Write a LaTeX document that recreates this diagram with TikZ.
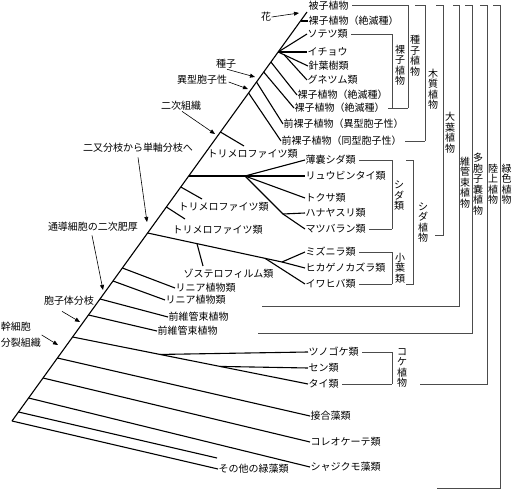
\documentclass[tikz,border=0pt]{standalone}
\usepackage{fontspec}
\newfontfamily\jp{Noto Sans CJK JP}
\usetikzlibrary{arrows.meta,calc}
\begin{document}
\begin{tikzpicture}[x=1pt,y=-1pt,
  lbl/.style={font=\jp\fontsize{10}{10.5}\selectfont, inner sep=0.5pt, anchor=west},
  vlbl/.style={font=\jp\fontsize{10}{10.5}\selectfont, inner sep=0pt, align=center},
  note/.style={font=\jp\fontsize{10}{10.5}\selectfont, inner sep=0.5pt},
  twig/.style={line width=1.1pt, black},
  bracketline/.style={line width=0.75pt, black!70},
  arr/.style={line width=0.6pt, black, -{Triangle[length=5pt,width=4pt]}}
]
\useasboundingbox (0,0) rectangle (512,489);

% ---------- leaf labels ----------
\node[lbl] (n1) at (308,5.5) {被子植物};
\node[lbl] (n2) at (308,21) {裸子植物（絶滅種）};
\node[lbl] (n3) at (307,34) {ソテツ類};
\node[lbl] (n4) at (307,52) {イチョウ};
\node[lbl] (n5) at (308,66) {針葉樹類};
\node[lbl] (n6) at (307,80) {グネツム類};
\node[lbl] (n7) at (297,95) {裸子植物（絶滅種）};
\node[lbl] (n8) at (294,108) {裸子植物（絶滅種）};
\node[lbl] (n9) at (283,124) {前裸子植物（異型胞子性）};
\node[lbl] (n10) at (281,141) {前裸子植物（同型胞子性）};
\node[lbl] (n11) at (207,154) {トリメロファイツ類};
\node[lbl] (n12) at (305,160) {薄嚢シダ類};
\node[lbl] (n13) at (305,176) {リュウビンタイ類};
\node[lbl] (n14) at (305,198) {トクサ類};
\node[lbl] (n15) at (305,213) {ハナヤスリ類};
\node[lbl] (n16) at (305,229) {マツバラン類};
\node[lbl] (n17) at (178,207) {トリメロファイツ類};
\node[lbl] (n18) at (172,230) {トリメロファイツ類};
\node[lbl] (n19) at (305,252) {ミズニラ類};
\node[lbl] (n20) at (305,268) {ヒカゲノカズラ類};
\node[lbl] (n21) at (305,284) {イワヒバ類};
\node[lbl] (n22) at (183,274) {ゾステロフィルム類};
\node[lbl] (n23) at (175,288) {リニア植物類};
\node[lbl] (n24) at (165,300) {リニア植物類};
\node[lbl] (n25) at (168,317) {前維管束植物};
\node[lbl] (n26) at (157,331) {前維管束植物};
\node[lbl] (n27) at (308,352) {ツノゴケ類};
\node[lbl] (n28) at (308,368) {セン類};
\node[lbl] (n29) at (308,384) {タイ類};
\node[lbl] (n30) at (310,416) {接合藻類};
\node[lbl] (n31) at (310,442) {コレオケーテ類};
\node[lbl] (n32) at (310,467) {シャジクモ藻類};
\node[lbl] (n33) at (218,469) {その他の緑藻類};

% ---------- trunk ----------
\coordinate (T0) at (12,421);
\coordinate (T1) at (307,12);
\draw[twig] (T0) -- (T1);

% seed plants
\coordinate (g2) at (300.5,21);
\draw[twig] (g2) -- (n2.west);
\coordinate (G) at (278.2,52);
\draw[twig] (G) -- (n3.west);
\draw[twig] (G) -- (n4.west);
\draw[twig] (G) -- (n5.west);
\coordinate (Gn) at ($(G)!0.2!(n5.west)$);
\draw[twig] (Gn) -- (n6.west);
\coordinate (g7) at (270.9,62);
\draw[twig] (g7) -- (n7.west);
\coordinate (g8) at (263.7,72);
\draw[twig] (g8) -- (n8.west);
\coordinate (pA) at (256.5,82);
\draw[twig] (pA) -- (n9.west);
\coordinate (pB) at (248.6,93);
\draw[twig] (pB) -- (n10.west);

% trimerophytes
\coordinate (tr1) at (220.4,132);
\coordinate (tr1e) at (244,146);
\draw[twig] (tr1) -- (tr1e);
\coordinate (tr2) at (180.8,187);
\coordinate (tr2e) at (202,199);
\draw[twig] (tr2) -- (tr2e);
\coordinate (tr3) at (166.4,207);
\coordinate (tr3e) at (185,219);
\draw[twig] (tr3) -- (tr3e);

% ferns
\coordinate (F0) at (188.7,176);
\coordinate (F) at (245,176);
\coordinate (F2) at (283,214);
\draw[twig] (F0) -- (F) -- (n13.west);
\draw[twig] (F) -- (n12.west);
\draw[twig] (F) -- (n14.west);
\draw[twig] (F) -- (F2) -- (n15.west);
\draw[twig] (F2) -- (n16.west);

% lycophytes
\coordinate (L0) at (147.6,233);
\coordinate (L2) at (282,262);
\coordinate (L1) at (265,258.3);
\coordinate (Z) at (197,243.7);
\coordinate (Ze) at (203,266);
\draw[twig] (L0) -- (L2);
\draw[twig] (L2) -- (n19.west);
\draw[twig] (L2) -- (n20.west);
\draw[twig] (L1) -- (n21.west);
\draw[twig] (Z) -- (Ze);

% rhyniophytes, protracheophytes
\coordinate (r1) at (122.4,268);
\draw[twig] (r1) -- (n23.west);
\coordinate (r2) at (113,281);
\draw[twig] (r2) -- (n24.west);
\coordinate (p1) at (100,299);
\draw[twig] (p1) -- (n25.west);
\coordinate (p2) at (88.5,315);
\draw[twig] (p2) -- (n26.west);

% bryophytes
\coordinate (B0) at (72.6,337);
\draw[twig] (B0) -- (n29.west);
\coordinate (B1) at ($(B0)!0.3713!(n29.west)$);
\coordinate (B2) at ($(B0)!0.6262!(n29.west)$);
\draw[twig] (B1) -- (n27.west);
\draw[twig] (B2) -- (n28.west);

% algae
\coordinate (a1) at (57.4,358);
\draw[twig] (a1) -- (n30.west);
\coordinate (a2) at (43,378);
\draw[twig] (a2) -- (n31.west);
\coordinate (a3) at (28.6,398);
\draw[twig] (a3) -- (n32.west);
\coordinate (a4) at (18.5,412);
\coordinate (a4e) at (217,458);
\draw[twig] (a4) -- (a4e);
\draw[twig] (T0) -- (n33.west);

% ---------- annotations ----------
\node[note] (hana) at (266,17) {花};
\coordinate (hanaE) at (299,13);
\draw[arr] (hana.east) -- (hanaE);
\node[note] (shushi) at (226,64) {種子};
\coordinate (shushiE) at (255,77);
\draw[arr] ([xshift=1pt]shushi.south) -- (shushiE);
\node[note] (igata) at (202,80) {異型胞子性};
\coordinate (igataE) at (248,89);
\draw[arr] ([shift={(1pt,-2pt)}]igata.east) -- (igataE);
\node[note] (niji) at (181,106) {二次組織};
\coordinate (nijiE) at (215,134);
\draw[arr] ([xshift=1pt]niji.south) -- (nijiE);
\node[note] (nimata) at (138,148) {二又分枝から単軸分枝へ};
\coordinate (nimataE) at (147,222);
\draw[arr] ([yshift=-4pt]nimata.south) -- (nimataE);
\node[note] (tsudo) at (93,227) {通導細胞の二次肥厚};
\coordinate (tsudoE) at (103,290);
\draw[arr] ([shift={(-1pt,-3pt)}]tsudo.south) -- (tsudoE);
\node[note] (hoshi) at (69,301) {胞子体分枝};
\coordinate (hoshiE) at (80,322);
\draw[arr] ([shift={(-7pt,-5pt)}]hoshi.south) -- (hoshiE);
\node[note] (kan) at (16,327) {幹細胞};
\node[note] (bun) at (21,343) {分裂組織};
\coordinate (kanE) at (58,345);
\draw[arr] ([shift={(10pt,-8pt)}]kan.east) -- (kanE);

% ---------- brackets ----------
% seed plants
\draw[bracketline] ([xshift=3pt]n1.east) -- (408,5.5) -- (408,108);
\draw[bracketline] ([xshift=3pt]n8.east) -- (408,108);
% gymnosperms
\draw[bracketline] ([xshift=3pt]n3.east) -- (392,34) -- (392,108);
% woody
\draw[bracketline] (415,5.5) -- (425,5.5) -- (425,141);
\draw[bracketline] ([xshift=3pt]n10.east) -- (425,141);
% euphyllophytes
\draw[bracketline] (436,5.5) -- (443,5.5) -- (443,235) -- (435,235);
% vascular
\draw[bracketline] (453,5.5) -- (459,5.5) -- (459,306) -- (262,306);
% polysporangiophytes
\draw[bracketline] (465,5.5) -- (472,5.5) -- (472,333) -- (258,333);
% land plants
\draw[bracketline] (480,5.5) -- (487,5.5) -- (487,384) -- (420,384);
% green plants
\draw[bracketline] (493,5.5) -- (500,5.5) -- (500,488) -- (437,488);
% ferns (シダ類)
\draw[bracketline] ([xshift=3pt]n12.east) -- (392,160) -- (392,229);
\draw[bracketline] ([xshift=3pt]n16.east) -- (392,229);
% pteridophytes
\draw[bracketline] (406,160) -- (413,160) -- (413,284) -- (406,284);
% lycophytes
\draw[bracketline] ([xshift=3pt]n19.east) -- (392,252) -- (392,284);
\draw[bracketline] ([xshift=3pt]n21.east) -- (392,284);
% bryophytes
\draw[bracketline] ([xshift=3pt]n27.east) -- (392,352) -- (392,384);
\draw[bracketline] ([xshift=3pt]n29.east) -- (392,384);

% ---------- vertical group labels ----------
\node[vlbl] (vShushi) at (415,56) {種\\子\\植\\物};
\node[vlbl] (vRashi) at (400,65) {裸\\子\\植\\物};
\node[vlbl] (vMoku) at (433,89) {木\\質\\植\\物};
\node[vlbl] (vDaiyo) at (450,132.5) {大\\葉\\植\\物};
\node[vlbl] (vIkan) at (465,182.5) {維\\管\\束\\植\\物};
\node[vlbl] (vTaho) at (478,184) {多\\胞\\子\\嚢\\植\\物};
\node[vlbl] (vRiku) at (493,184) {陸\\上\\植\\物};
\node[vlbl] (vRyoku) at (506.5,184) {緑\\色\\植\\物};
\node[vlbl] (vShida) at (399,196) {シ\\ダ\\類};
\node[vlbl] (vShidaP) at (423,222.5) {シ\\ダ\\植\\物};
\node[vlbl] (vShoyo) at (400,268) {小\\葉\\類};
\node[vlbl] (vKoke) at (402,368) {コ\\ケ\\植\\物};
\end{tikzpicture}
\end{document}
